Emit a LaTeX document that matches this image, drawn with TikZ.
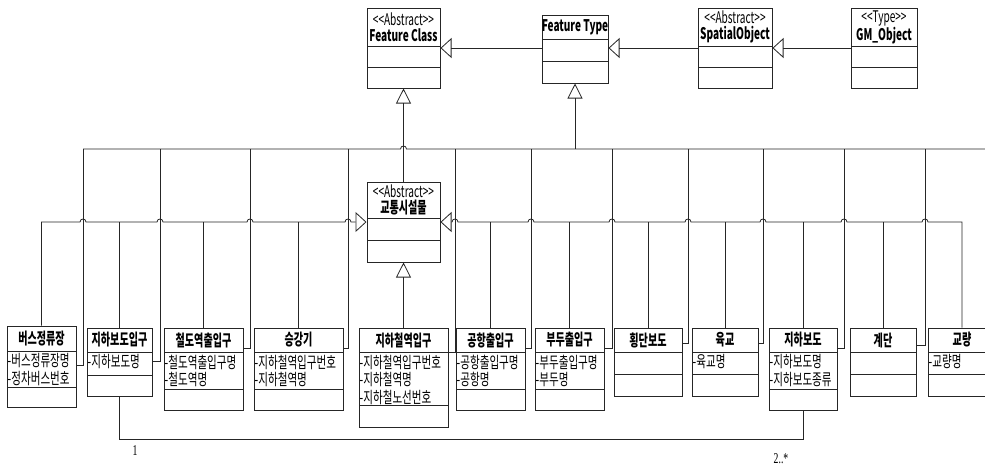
\documentclass[tikz,border=0pt]{standalone}
\usepackage{fontspec}
\setmainfont{Noto Sans CJK KR}[FakeStretch=0.66]
\newfontfamily\hdrfont{Noto Sans CJK KR}[FakeStretch=0.63]
\newfontfamily\multfont{Liberation Serif}[FakeStretch=0.65]
\usetikzlibrary{arrows.meta,fit}
\tikzset{
  umlbox/.style={draw=black!85, line width=1pt, inner sep=0pt},
  umldiv/.style={draw=black!85, line width=1pt},
  umlhdr/.style={align=center, inner sep=0pt, font=\hdrfont\fontsize{16}{16.5}\selectfont\bfseries},
  umlattr/.style={anchor=north west, align=left, inner xsep=0.5pt, inner ysep=2.5pt, font=\fontsize{16}{17.5}\selectfont},
  wire/.style={draw=black!85, line width=0.8pt},
  genh/.style={wire, -{Triangle[open, length=11pt, width=20pt]}},
  genv/.style={wire, -{Triangle[open, length=15pt, width=15pt]}},
  mult/.style={inner sep=0pt, anchor=base, font=\multfont\fontsize{15}{15}\selectfont}
}
\newcommand\stereo[1]{{\mdseries{<}{<}#1{>}{>}}}
\newcommand\umlcls[9]{%
  \node[umlbox, fit={(#2,#3)(#4,#5)}] (#1) {};
  \draw[umldiv] (#2,#6) -- (#4,#6) (#2,#7) -- (#4,#7);
  \node[umlhdr] at ({(#2+#4)/2},{(#3+#6)/2}) {#8};
  \node[umlattr] at (#2,#6) {#9};
}
\begin{document}
\begin{tikzpicture}[x=1pt, y=-1pt]
\useasboundingbox (0,0) rectangle (985,467);
\clip (0,0) rectangle (985,467);
% top row
\umlcls{fc}{367}{8}{440}{88}{46}{67}{\stereo{Abstract}\\Feature Class}{}
\umlcls{ft}{542}{15}{608}{83}{39}{61}{Feature Type}{}
\umlcls{so}{698}{8}{772}{88}{46}{67}{\stereo{Abstract}\\SpatialObject}{}
\umlcls{gm}{851}{8}{917}{88}{46}{67}{\stereo{Type}\\GM\_Object}{}
\umlcls{tf}{367}{182}{440}{262}{218}{240}{\stereo{Abstract}\\교통시설물}{}
% bottom row
\umlcls{b1}{7}{326}{76}{407}{351}{387}{버스정류장}{-버스정류장명\\-정차버스번호}
\umlcls{b2}{87}{328}{152}{396}{352}{375}{지하보도입구}{-지하보도명}
\umlcls{b3}{164}{328}{243}{410}{352}{389}{철도역출입구}{-철도역출입구명\\-철도역명}
\umlcls{b4}{254}{328}{343}{410}{352}{389}{승강기}{-지하철역입구번호\\-지하철역명}
\umlcls{b5}{359}{328}{448}{427}{352}{405}{지하철역입구}{-지하철역입구번호\\-지하철역명\\-지하철노선번호}
\umlcls{b6}{456}{328}{525}{410}{352}{389}{공항출입구}{-공항출입구명\\-공항명}
\umlcls{b7}{535}{328}{604}{410}{352}{389}{부두출입구}{-부두출입구명\\-부두명}
\umlcls{b8}{614}{328}{682}{396}{352}{374}{횡단보도}{}
\umlcls{b9}{692}{328}{758}{396}{352}{374}{육교}{-육교명}
\umlcls{b10}{769}{328}{837}{410}{352}{389}{지하보도}{-지하보도명\\-지하보도종류}
\umlcls{b11}{850}{328}{916}{396}{352}{374}{계단}{}
\umlcls{b12}{928}{328}{996}{396}{352}{374}{교량}{-교량명}
% generalisations in top row
\draw[genh] (ft.west |- fc.east) -- (fc.east);
\draw[genh] (so.west) -- (so.west -| ft.east);
\draw[genh] (gm.west) -- (so.east);
\draw[genv] (tf.north) -- (fc.south);
\draw[genv] (b5.north) -- (tf.south);
% upper bus to Feature Type
\draw[wire] (83,149) -- (400.5,149) .. controls (400.5,145) and (406.5,145) .. (406.5,149) -- (990,149);
\draw[genv] (ft.south |- 0,149) -- (ft.south);
\foreach \n/\x/\y in {b1/83/365, b2/160/361, b3/250/348, b4/348/348, b5/455/352, b6/531/348, b7/612/348, b8/688/343, b9/763/343, b10/844/348, b11/925/345}
  \draw[wire] (\n.east |- 0,\y) -| (\x,149);
% lower bus to 교통시설물
\draw[genh] (b1.north) -- (b1.north |- tf.west)
  \foreach \c in {83,160,250,348} { -- (\c-3,222) .. controls (\c-3,218) and (\c+3,218) .. (\c+3,222) } -- (tf.west);
\draw[genh] (b12.north) -- (b12.north |- tf.east)
  \foreach \c in {925,844,763,688,612,531,455} { -- (\c+3,222) .. controls (\c+3,218) and (\c-3,218) .. (\c-3,222) } -- (tf.east);
\foreach \n in {b2,b3,b4}
  \draw[wire] (\n.north) -- (\n.north |- tf.west);
\foreach \n in {b6,b7,b8,b9,b10,b11}
  \draw[wire] (\n.north) -- (\n.north |- tf.east);
% association
\draw[wire] (b2.south) -- ++(0,43) -| (b10.south);
\node[mult] (m1) at (135,455) {1};
\node[mult] (m2) at (781,463) {2..*};
\end{tikzpicture}
\end{document}
